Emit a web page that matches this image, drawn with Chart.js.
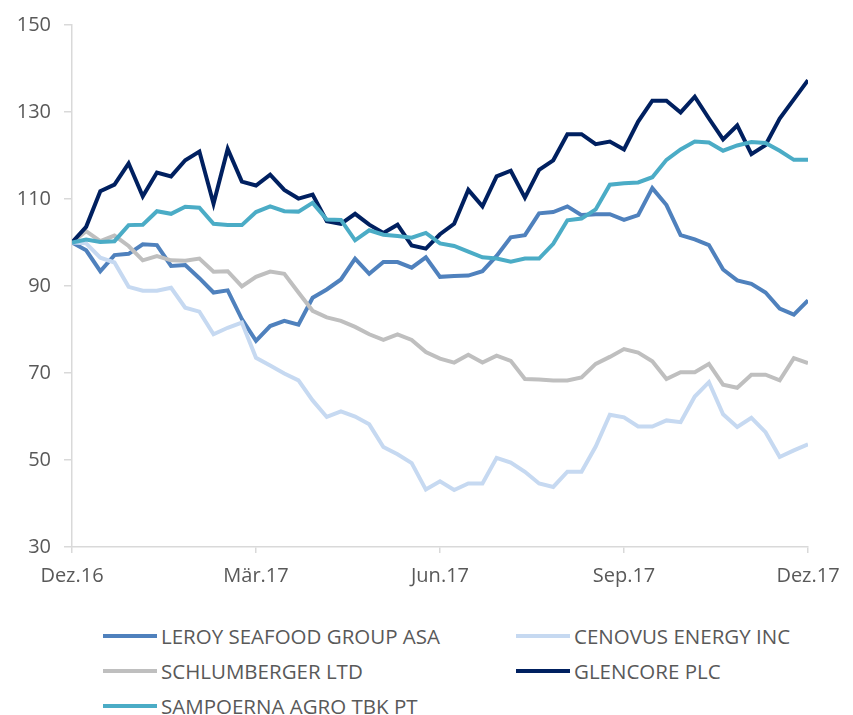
<!DOCTYPE html>
<html>
<head>
<meta charset="utf-8">
<script src="https://cdn.jsdelivr.net/npm/chart.js@4/dist/chart.umd.min.js"></script>
<style>
  html, body { margin: 0; padding: 0; background: #fff; }
  #wrap { position: relative; width: 853px; height: 715px; }
  #chartBox { position: absolute; left: 0; top: 0; width: 853px; height: 600px; }
  #legend { position: absolute; left: 0; top: 621px; width: 853px; }
  .item { position: absolute; display: flex; align-items: center; height: 30px;
          font-family: "Open Sans", sans-serif; font-size: 20.5px; color: #595959; white-space: nowrap; }
  .swatch { width: 54px; height: 4px; margin-right: 4px; }
</style>
</head>
<body>
<div id="wrap">
  <div id="chartBox"><canvas id="chart"></canvas></div>
  <div id="legend"></div>
</div>
<script>
// weekly index values, 53 weeks from Dez.16 to Dez.17 (start = 100)
const tickLabels = ["Dez.16", "Mär.17", "Jun.17", "Sep.17", "Dez.17"];

const seriesNames = [
  "LEROY SEAFOOD GROUP ASA",
  "CENOVUS ENERGY INC",
  "SCHLUMBERGER LTD",
  "GLENCORE PLC",
  "SAMPOERNA AGRO TBK PT",
];

const seriesColors = ["#4f81bd", "#c6d9f1", "#bfbfbf", "#002060", "#4bacc6"];

const leroy = [
  100, 98.2, 93.4, 97.1, 97.4, 99.6, 99.4, 94.6, 94.8, 91.8, 88.5, 89.0, 82.4, 77.4,
  80.8, 82.0, 81.1, 87.3, 89.2, 91.5, 96.3, 92.8, 95.5, 95.5, 94.2, 96.6, 92.1,
  92.3, 92.4, 93.4, 96.9, 101.2, 101.7, 106.7, 107.0, 108.3, 106.3, 106.5, 106.5,
  105.2, 106.3, 112.5, 108.6, 101.7, 100.7, 99.4, 93.8, 91.3, 90.5, 88.5, 84.8, 83.4, 86.7,
];

const cenovus = [
  100, 99.8, 96.5, 95.4, 89.8, 88.9, 88.9, 89.6, 85.0, 84.1, 78.9, 80.4, 81.6, 73.5,
  71.7, 69.9, 68.3, 63.7, 59.9, 61.2, 60.0, 58.2, 53.0, 51.3, 49.3, 43.2, 45.1,
  43.1, 44.6, 44.6, 50.5, 49.4, 47.3, 44.6, 43.8, 47.3, 47.3, 53.1, 60.4,
  59.8, 57.7, 57.7, 59.1, 58.7, 64.6, 67.9, 60.5, 57.6, 59.7, 56.4, 50.7, 52.2, 53.6,
];

const schlumberger = [
  100, 102.6, 100.3, 101.6, 99.2, 95.9, 96.9, 95.9, 95.8, 96.3, 93.3, 93.4, 89.9, 92.1,
  93.3, 92.8, 88.5, 84.3, 82.8, 82.0, 80.6, 78.9, 77.6, 78.9, 77.6, 74.8, 73.3,
  72.4, 74.2, 72.4, 74.0, 72.8, 68.6, 68.5, 68.3, 68.3, 69.0, 72.1, 73.7,
  75.5, 74.7, 72.7, 68.6, 70.2, 70.2, 72.1, 67.3, 66.6, 69.6, 69.6, 68.3, 73.4, 72.3,
];

const glencore = [
  100, 103.6, 111.8, 113.3, 118.2, 110.6, 116.1, 115.2, 118.9, 120.9, 108.9, 121.5, 114.0, 113.1,
  115.6, 112.1, 110.1, 111.0, 104.9, 104.3, 106.6, 104.1, 102.2, 104.1, 99.3, 98.6, 101.9,
  104.3, 112.1, 108.3, 115.2, 116.5, 110.3, 116.7, 118.9, 124.9, 124.9, 122.6, 123.2,
  121.4, 127.8, 132.6, 132.6, 129.9, 133.5, 128.5, 123.7, 126.9, 120.3, 122.4, 128.5, 132.9, 137.3,
];

const sampoerna = [
  100, 100.7, 100.1, 100.3, 104.0, 104.1, 107.2, 106.6, 108.2, 108.0, 104.3, 104.0, 104.0, 107.0,
  108.3, 107.2, 107.1, 109.1, 105.3, 105.2, 100.5, 102.8, 101.8, 101.5, 101.1, 102.2, 99.8,
  99.2, 97.9, 96.6, 96.3, 95.6, 96.3, 96.3, 99.7, 105.1, 105.5, 107.6, 113.3,
  113.6, 113.8, 115.0, 119.0, 121.4, 123.2, 123.0, 121.1, 122.3, 123.1, 122.9, 121.1, 119.0, 119.0,
];

const allSeries = [leroy, cenovus, schlumberger, glencore, sampoerna];

const fontFamily = '"Open Sans", sans-serif';
const textColor = "#595959";
const axisColor = "#d9d9d9";

const datasets = allSeries.map((values, idx) => ({
  label: seriesNames[idx],
  data: values.map((v, i) => ({ x: i, y: v })),
  borderColor: seriesColors[idx],
  backgroundColor: seriesColors[idx],
  borderWidth: 4,
  pointRadius: 0,
  tension: 0,
  order: allSeries.length - idx,
}));

new Chart(document.getElementById("chart"), {
  type: "line",
  data: { datasets },
  options: {
    responsive: true,
    maintainAspectRatio: false,
    animation: false,
    layout: { padding: { left: 0, right: 45, top: 23, bottom: 0 } },
    plugins: { legend: { display: false }, tooltip: { enabled: false } },
    scales: {
      x: {
        type: "linear",
        min: 0,
        max: 52,
        afterFit: (scale) => { scale.height = 53; },
        border: { color: axisColor, width: 1.5 },
        grid: { drawOnChartArea: false, drawTicks: true, tickLength: 6, color: axisColor, lineWidth: 1.5 },
        ticks: {
          stepSize: 13,
          padding: 11,
          color: textColor,
          font: { family: fontFamily, size: 20 },
          maxRotation: 0,
          callback: (v) => tickLabels[v / 13],
        },
      },
      y: {
        min: 30,
        max: 150,
        afterFit: (scale) => { scale.width = 72; },
        border: { color: axisColor, width: 1.5 },
        grid: { drawOnChartArea: false, drawTicks: true, tickLength: 8, color: axisColor, lineWidth: 1.5 },
        ticks: {
          stepSize: 20,
          padding: 13,
          color: textColor,
          font: { family: fontFamily, size: 20 },
        },
      },
    },
  },
});

// two-column legend under the chart
const legendPos = [
  [103, 0], [516, 0],
  [103, 35], [516, 35],
  [103, 70],
];
const legendEl = document.getElementById("legend");
seriesNames.forEach((name, idx) => {
  const item = document.createElement("div");
  item.className = "item";
  item.style.left = legendPos[idx][0] + "px";
  item.style.top = legendPos[idx][1] + "px";
  item.innerHTML = `<span class="swatch" style="background:${seriesColors[idx]}"></span>${name}`;
  legendEl.appendChild(item);
});
</script>
</body>
</html>
